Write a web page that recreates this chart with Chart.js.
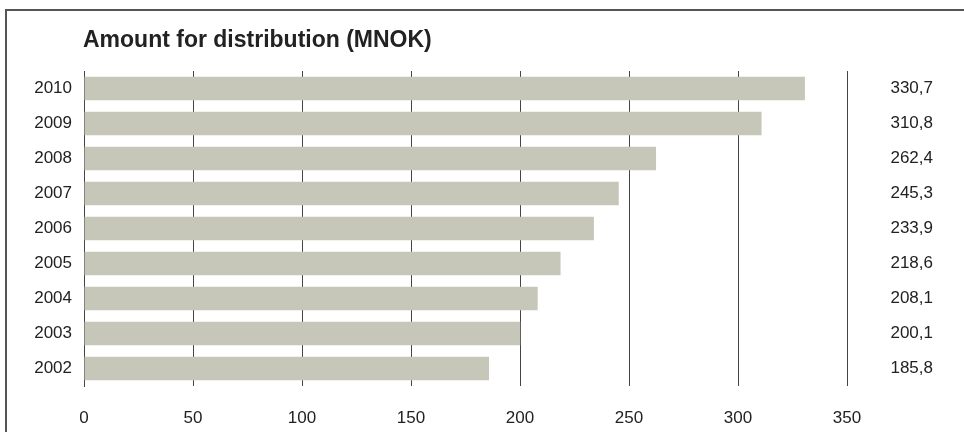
<!DOCTYPE html>
<html>
<head>
<meta charset="utf-8">
<script src="https://cdn.jsdelivr.net/npm/chart.js@4/dist/chart.umd.min.js"></script>
<style>
  html, body { margin: 0; padding: 0; background: #fff; }
  #wrap { position: relative; width: 964px; height: 432px; }
</style>
</head>
<body>
<div id="wrap"><canvas id="c" width="964" height="432"></canvas></div>
<script>
const chartTitle = 'Amount for distribution (MNOK)';
const years = ['2010', '2009', '2008', '2007', '2006', '2005', '2004', '2003', '2002'];
const amounts = [330.7, 310.8, 262.4, 245.3, 233.9, 218.6, 208.1, 200.1, 185.8];
const xTicks = [0, 50, 100, 150, 200, 250, 300, 350];

const FONT = '"Liberation Sans", Arial, sans-serif';

const framePlugin = {
  id: 'frame',
  beforeDraw(chart) {
    const ctx = chart.ctx;
    ctx.save();
    ctx.strokeStyle = '#555';
    ctx.lineWidth = 2;
    ctx.beginPath();
    ctx.moveTo(964, 10);
    ctx.lineTo(6, 10);
    ctx.lineTo(6, 432);
    ctx.stroke();
    ctx.fillStyle = '#222';
    ctx.font = 'bold 23px ' + FONT;
    ctx.textAlign = 'left';
    ctx.textBaseline = 'middle';
    ctx.fillText(chartTitle, 83, 41);
    ctx.restore();
  }
};

const valuePlugin = {
  id: 'values',
  afterDatasetsDraw(chart) {
    const ctx = chart.ctx;
    const meta = chart.getDatasetMeta(0);
    ctx.save();
    ctx.fillStyle = '#222';
    ctx.font = '17px ' + FONT;
    ctx.textAlign = 'right';
    ctx.textBaseline = 'middle';
    meta.data.forEach((bar, i) => {
      ctx.fillText(amounts[i].toFixed(1).replace('.', ','), 933, bar.y);
    });
    ctx.restore();
  }
};

new Chart(document.getElementById('c'), {
  type: 'bar',
  data: {
    labels: years,
    datasets: [{
      data: amounts,
      backgroundColor: '#c6c6b9',
      borderWidth: 0,
      barPercentage: 0.667,
      categoryPercentage: 1.0
    }]
  },
  options: {
    indexAxis: 'y',
    responsive: false,
    animation: false,
    devicePixelRatio: 1,
    layout: { padding: { top: 71, right: 117, bottom: 0, left: 0 } },
    plugins: { legend: { display: false }, tooltip: { enabled: false }, title: { display: false } },
    scales: {
      x: {
        min: 0, max: 350,
        afterBuildTicks(scale) { scale.ticks = xTicks.map(v => ({ value: v })); },
        afterFit(scale) { scale.height = 46; },
        grid: { color: '#444', lineWidth: 1, drawTicks: false },
        border: { display: false },
        ticks: { color: '#222', font: { family: FONT, size: 17 }, padding: 22 }
      },
      y: {
        afterFit(scale) { scale.width = 84; },
        grid: { display: false, drawTicks: false },
        border: { display: true, color: '#444', width: 1 },
        ticks: { color: '#222', font: { family: FONT, size: 17 }, padding: 12 }
      }
    }
  },
  plugins: [framePlugin, valuePlugin]
});
</script>
</body>
</html>
